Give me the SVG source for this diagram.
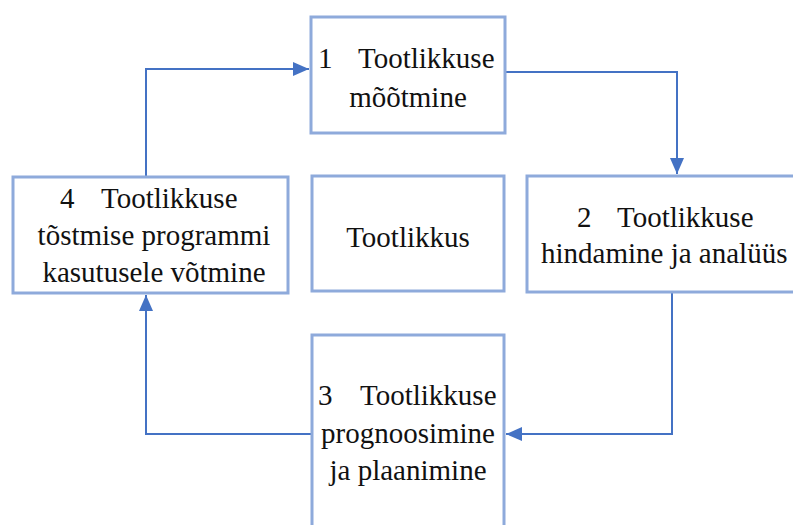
<svg xmlns="http://www.w3.org/2000/svg" width="793" height="525" viewBox="0 0 793 525">
  <style>
    .box { fill: #ffffff; stroke: #8eaadb; stroke-width: 3; }
    .mid { text-anchor: middle; }
    .link { fill: none; stroke: #4472c4; stroke-width: 2; }
  </style>
  <defs>
    <marker id="arrow" viewBox="0 0 16 14" refX="16" refY="7" markerWidth="16" markerHeight="14" markerUnits="userSpaceOnUse" orient="auto">
      <path d="M0,0 L16,7 L0,14 Z" fill="#4472c4"/>
    </marker>
  </defs>
  <rect width="793" height="525" fill="#ffffff"/>

  <!-- connectors -->
  <g id="connectors">
    <polyline class="link" points="505,72 677,72 677,174" marker-end="url(#arrow)"/>
    <polyline class="link" points="672,293 672,434 506,434" marker-end="url(#arrow)"/>
    <polyline class="link" points="312,434 146,434 146,295" marker-end="url(#arrow)"/>
    <polyline class="link" points="146,176 146,69 309,69" marker-end="url(#arrow)"/>
  </g>

  <!-- step 1 -->
  <g id="node1" style="font-family: 'Liberation Serif', serif; font-size: 29px; fill: #111111">
    <rect class="box" x="311" y="17" width="194" height="116"/>
    <text x="318" y="68">1</text>
    <text x="358" y="68">Tootlikkuse</text>
    <text class="mid" x="408" y="107">mõõtmine</text>
  </g>

  <!-- step 2 -->
  <g id="node2" style="font-family: 'Liberation Serif', serif; font-size: 29px; fill: #111111">
    <rect class="box" x="527" y="176" width="280" height="116"/>
    <text x="577" y="227">2</text>
    <text x="617" y="227">Tootlikkuse</text>
    <text x="541" y="263">hindamine ja analüüs</text>
  </g>

  <!-- step 3 -->
  <g id="node3" style="font-family: 'Liberation Serif', serif; font-size: 29px; fill: #111111">
    <rect class="box" x="312" y="335" width="192" height="210"/>
    <text x="318" y="405">3</text>
    <text x="360" y="405">Tootlikkuse</text>
    <text class="mid" x="408" y="443">prognoosimine</text>
    <text class="mid" x="408" y="480">ja plaanimine</text>
  </g>

  <!-- step 4 -->
  <g id="node4" style="font-family: 'Liberation Serif', serif; font-size: 29px; fill: #111111">
    <rect class="box" x="13" y="177" width="275" height="116"/>
    <text x="60" y="208">4</text>
    <text x="101" y="208">Tootlikkuse</text>
    <text class="mid" x="154" y="245">tõstmise programmi</text>
    <text class="mid" x="154" y="282">kasutusele võtmine</text>
  </g>

  <!-- centre -->
  <g id="center" style="font-family: 'Liberation Serif', serif; font-size: 29px; fill: #111111">
    <rect class="box" x="312" y="176" width="192" height="115"/>
    <text class="mid" x="408" y="247">Tootlikkus</text>
  </g>
</svg>
